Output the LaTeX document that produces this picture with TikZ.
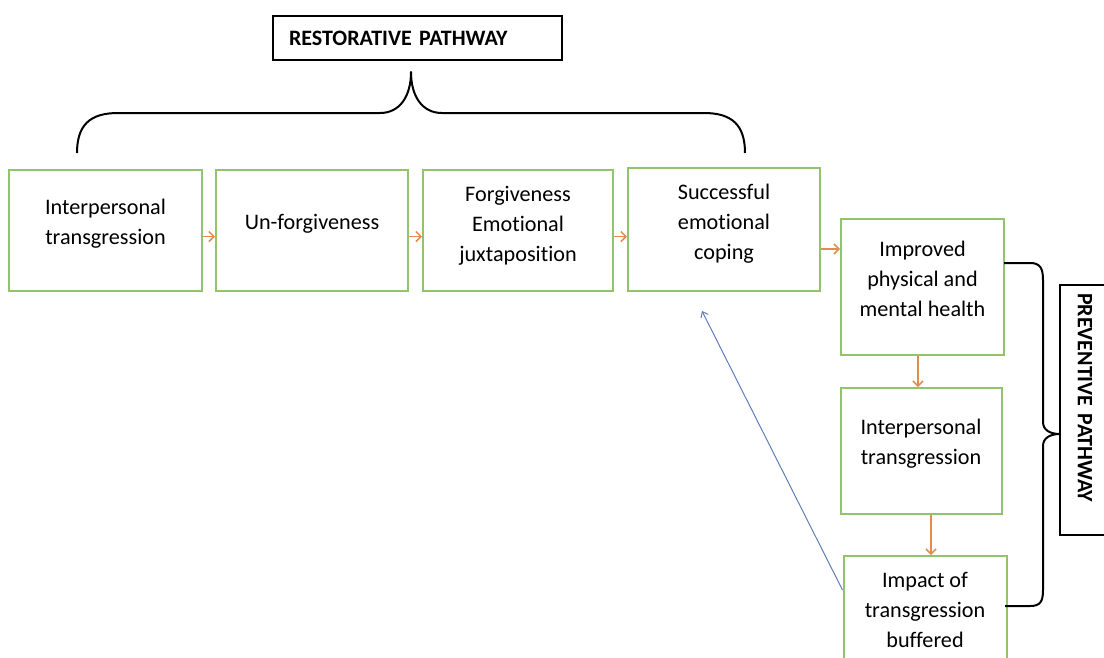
\documentclass[tikz,border=0pt]{standalone}
\usepackage{fontspec}
\setmainfont{Carlito}[Ligatures = NoCommon]
\usetikzlibrary{arrows.meta}

\definecolor{stagegreen}{RGB}{146,196,110}
\definecolor{flowor}{RGB}{225,140,80}
\definecolor{backblue}{RGB}{95,125,185}

\tikzset{
    stage/.style = {draw = stagegreen, line width = 2pt, minimum width = 192pt,
        minimum height = 121pt, inner sep = 0},
    stagetext/.style = {align = center, inner sep = 0,
        font = \fontsize{22.2}{30}\selectfont},
    pathbox/.style = {draw, line width = 1.5pt, minimum height = 44pt,
        inner xsep = 16pt, inner ysep = 0, align = left,
        font = \bfseries\fontsize{22}{26}\selectfont},
    flow/.style = {-{Straight Barb[length = 5pt, width = 10pt]}, flowor, line width = 1.5pt},
    back/.style = {-{Straight Barb[length = 5pt, width = 8pt]}, backblue, line width = 1pt},
    brace/.style = {line width = 2pt, line join = round}
}

\begin{document}
\begin{tikzpicture}[x = 1pt, y = -1pt]
    \useasboundingbox (0, 0) rectangle (1104, 657);

    %% restorative stages
    \node[stage, minimum width = 193pt] (b1) at (105.5, 230.5) {};
    \node[stage] (b2) at (312, 230.5) {};
    \node[stage, minimum width = 190pt] (b3) at (518, 230.5) {};
    \node[stage, minimum height = 123pt] (b4) at (724, 229.5) {};

    %% preventive stages
    \node[stage, minimum width = 163pt, minimum height = 136pt] (b5) at (922.5, 287) {};
    \node[stage, minimum width = 161pt, minimum height = 126pt] (b6) at (921, 451) {};
    \node[stage, minimum width = 163pt, minimum height = 124pt] (b7) at (925, 618) {};

    %% texts
    \node[stagetext] (t1) at ([yshift = 7pt]b1.center) {Interpersonal\\transgression};
    \node[stagetext] (t2) at ([yshift = 7pt]b2.center) {Un-forgiveness};
    \node[stagetext] (t3) at ([yshift = 5pt]b3.center) {Forgiveness\\Emotional\\juxtaposition};
    \node[stagetext] (t4) at ([yshift = 6pt]b4.center) {Successful\\emotional\\coping};
    \node[stagetext] (t5) at ([yshift = 8.5pt]b5.center) {Improved\\physical and\\mental health};
    \node[stagetext] (t6) at ([yshift = 7.5pt]b6.center) {Interpersonal\\transgression};
    \node[stagetext] (t7) at ([yshift = 8.5pt]b7.center) {Impact of\\transgression\\buffered};

    %% pathway labels
    \node[pathbox, text width = 257pt] (rest) at (417.5, 38) {RESTORATIVE PATHWAY};
    \node[pathbox, rotate = -90, inner xsep = 8pt, text width = 234pt,
        minimum height = 50pt] (prev) at (1085, 410) {PREVENTIVE PATHWAY};

    %% arrows
    \draw[flow] ([yshift = -6pt]b1.east) -- ([yshift = -6pt]b1.east -| b2.west);
    \draw[flow] ([yshift = -6pt]b2.east) -- ([yshift = -6pt]b2.east -| b3.west);
    \draw[flow] ([yshift = -6pt]b3.east) -- ([yshift = -6pt]b3.east -| b4.west);
    \draw[flow] ([yshift = -19.5pt]b4.east) -- ([yshift = -19.5pt]b4.east -| b5.west);
    \draw[flow] ([xshift = -4.5pt]b5.south) -- ([xshift = -4.5pt]b5.south |- b6.north);
    \draw[flow] ([xshift = 10pt]b6.south) -- ([xshift = 10pt]b6.south |- b7.north);

    %% feedback
    \coordinate (fb) at (702, 311);
    \draw[back] ([yshift = 28pt]b7.west) -- (fb);

    %% braces
    \draw[brace] (77, 153) .. controls (77, 125) and (90, 113) .. (118, 113)
        -- (380, 113) .. controls (400, 113) and (411, 96) .. (411, 72)
        .. controls (411, 96) and (422, 113) .. (442, 113)
        -- (704, 113) .. controls (732, 113) and (745, 125) .. (745, 153);
    \draw[brace] (1004, 263) -- (1030, 263) .. controls (1040, 263) and (1043, 268) .. (1043, 280)
        -- (1043, 422) .. controls (1043, 430) and (1050, 434) .. (1060, 434)
        .. controls (1050, 434) and (1043, 438) .. (1043, 446)
        -- (1043, 590) .. controls (1043, 602) and (1040, 606) .. (1030, 606) -- (1005, 606);
\end{tikzpicture}
\end{document}
